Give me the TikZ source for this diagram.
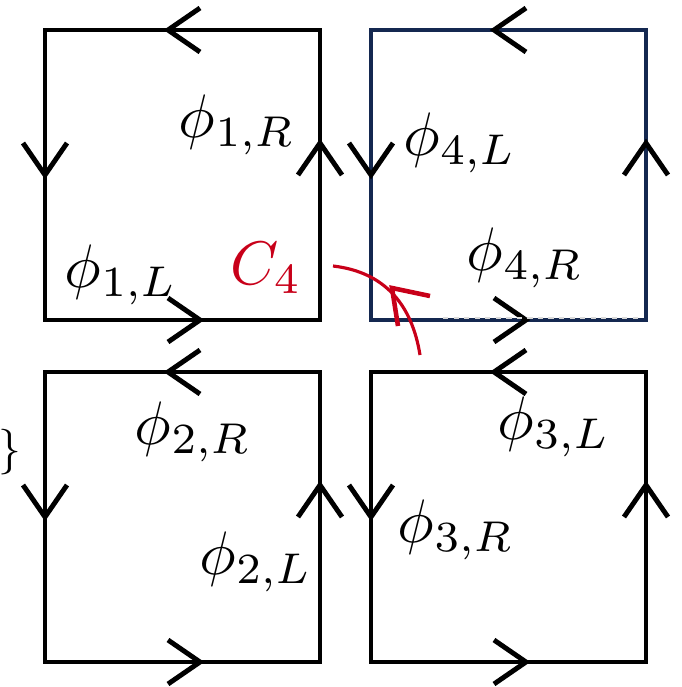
\documentclass[tikz,border=0pt]{standalone}
\definecolor{navyedge}{RGB}{20,40,80}
\definecolor{loopred}{RGB}{200,0,25}

\begin{document}
\begin{tikzpicture}[
  x=0.02cm, y=-0.02cm,
  plaq/.style={line width=2pt},
  lbl/.style={scale=3.5, inner sep=0pt},
  chev/.pic={\draw[line width=2.8pt] (-16,22) -- (16,0) -- (-16,-22);}
]
  \useasboundingbox (0,0) rectangle (681,687);

  % plaquettes with their orientation marks
  \foreach \x/\y/\c/\w in {45/30/black/2pt, 371/30/navyedge/2.4pt, 45/372/black/2pt, 371/372/black/2pt}{
    \draw[plaq, draw=\c, line width=\w] (\x,\y) rectangle ++(275,290);
    \pic[rotate=180] at (\x+139,\y)     {chev};
    \pic             at (\x+139,\y+290) {chev};
    \pic[rotate=270] at (\x,\y+129)     {chev};
    \pic[rotate=90]  at (\x+275,\y+129) {chev};
  }
  \draw[gray!30, dashed, line width=1.2pt] (443,318) -- (640,318);

  % link variables
  \node[lbl] (p1R) at (237,125) {$\phi_{1,R}$};
  \node[lbl] (p1L) at (121,275) {$\phi_{1,L}$};
  \node[lbl] (p4L) at (460,143) {$\phi_{4,L}$};
  \node[lbl] (p4R) at (525,258) {$\phi_{4,R}$};
  \node[lbl] (p2R) at (193,432) {$\phi_{2,R}$};
  \node[lbl] (p2L) at (256,562) {$\phi_{2,L}$};
  \node[lbl] (p3L) at (554,427) {$\phi_{3,L}$};
  \node[lbl] (p3R) at (456,530) {$\phi_{3,R}$};
  \node[scale=2.6, inner sep=0pt] (brace) at (10,452) {$\}$};

  % loop C4
  \node[lbl, text=loopred] (c4) at (266,268) {$C_4$};
  \coordinate (cs) at (420,355);
  \coordinate (ce) at (333,266);
  \draw[loopred, line width=1.8pt] (cs) .. controls (412,305) and (385,272) .. (ce);
  \draw[loopred, line width=2.6pt] (430,296) -- (392,288) -- (398,326);
\end{tikzpicture}
\end{document}
